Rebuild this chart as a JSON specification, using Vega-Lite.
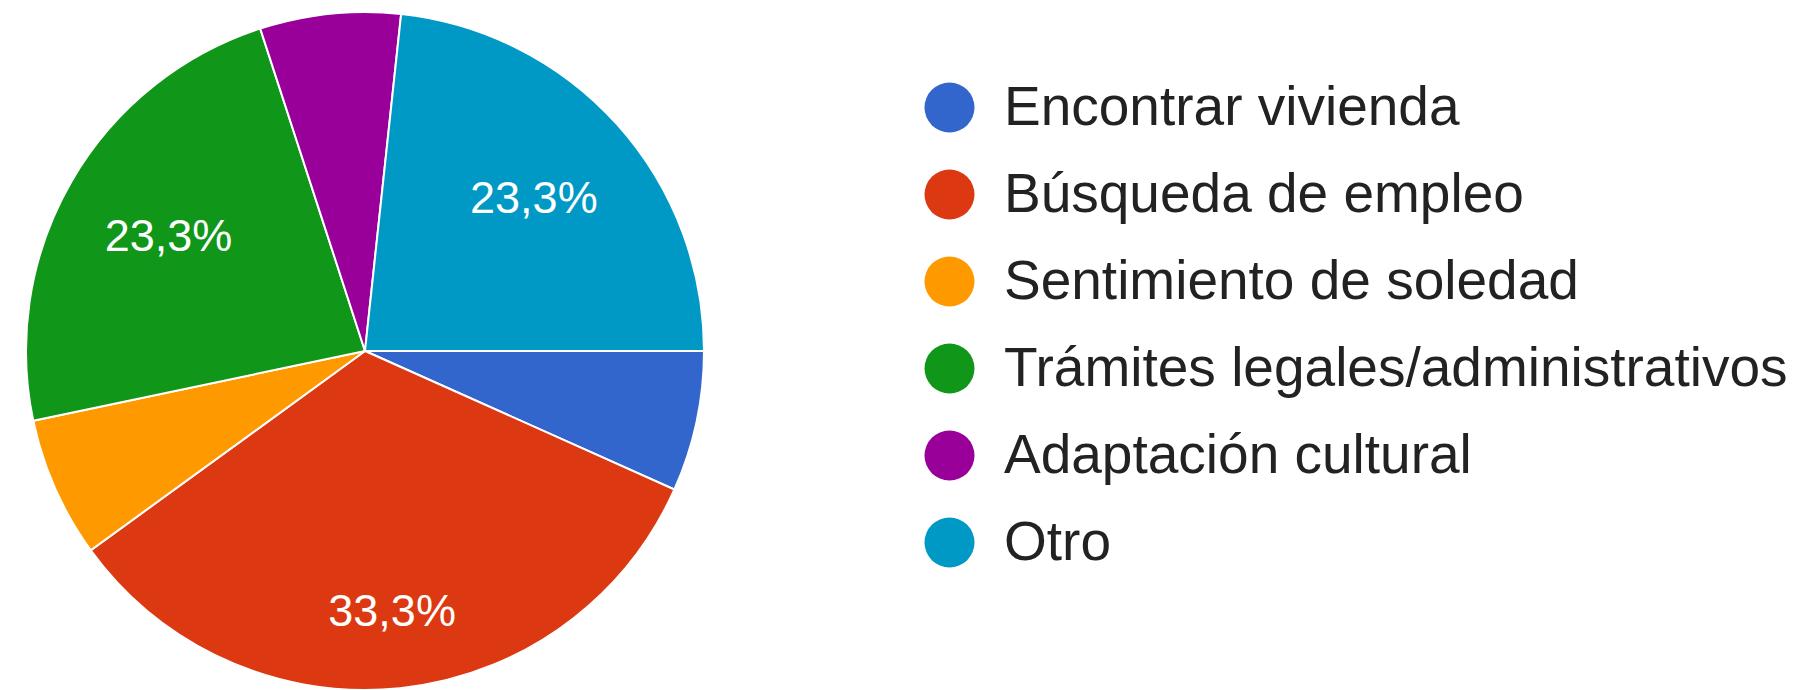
{
  "$schema": "https://vega.github.io/schema/vega-lite/v6.json",
  "width": 730,
  "height": 702,
  "padding": 0,
  "background": "white",
  "data": {
    "values": [
      {"idx": 1, "categoria": "Encontrar vivienda", "pct": 6.7, "etiqueta": ""},
      {"idx": 2, "categoria": "Búsqueda de empleo", "pct": 33.3, "etiqueta": "33,3%"},
      {"idx": 3, "categoria": "Sentimiento de soledad", "pct": 6.7, "etiqueta": ""},
      {"idx": 4, "categoria": "Trámites legales/administrativos", "pct": 23.3, "etiqueta": "23,3%"},
      {"idx": 5, "categoria": "Adaptación cultural", "pct": 6.7, "etiqueta": ""},
      {"idx": 6, "categoria": "Otro", "pct": 23.3, "etiqueta": "23,3%"}
    ]
  },
  "encoding": {
    "theta": {"field": "pct", "type": "quantitative", "stack": true, "scale": {"range": [1.5707963, 7.8539816]}},
    "order": {"field": "idx", "type": "quantitative"},
    "color": {
      "field": "categoria",
      "type": "nominal",
      "scale": {
        "domain": ["Encontrar vivienda", "Búsqueda de empleo", "Sentimiento de soledad", "Trámites legales/administrativos", "Adaptación cultural", "Otro"],
        "range": ["#3366cc", "#dc3912", "#ff9900", "#109618", "#990099", "#0099c6"]
      },
      "legend": {
        "title": null,
        "orient": "none",
        "legendX": 922,
        "legendY": 80,
        "symbolType": "circle",
        "symbolSize": 2500,
        "symbolStrokeWidth": 0,
        "labelFont": "Liberation Sans",
        "labelFontSize": 55,
        "labelColor": "#222222",
        "labelOffset": 27,
        "rowPadding": 31,
        "labelLimit": 1000
      }
    }
  },
  "layer": [
    {
      "mark": {"type": "arc", "radius": 339, "stroke": "white", "strokeWidth": 2}
    },
    {
      "mark": {"type": "text", "radius": 227, "font": "Liberation Sans", "fontSize": 45, "fill": "white", "align": "center", "baseline": "middle"},
      "encoding": {
        "text": {"field": "etiqueta", "type": "nominal"},
        "opacity": {"condition": {"test": "datum.idx === 2", "value": 0}, "value": 1},
        "color": {"value": "white"}
      }
    },
    {
      "mark": {"type": "text", "radius": 262, "font": "Liberation Sans", "fontSize": 45, "fill": "white", "align": "center", "baseline": "middle"},
      "encoding": {
        "text": {"field": "etiqueta", "type": "nominal"},
        "opacity": {"condition": {"test": "datum.idx === 2", "value": 1}, "value": 0},
        "color": {"value": "white"}
      }
    }
  ],
  "config": {"view": {"stroke": null}}
}
